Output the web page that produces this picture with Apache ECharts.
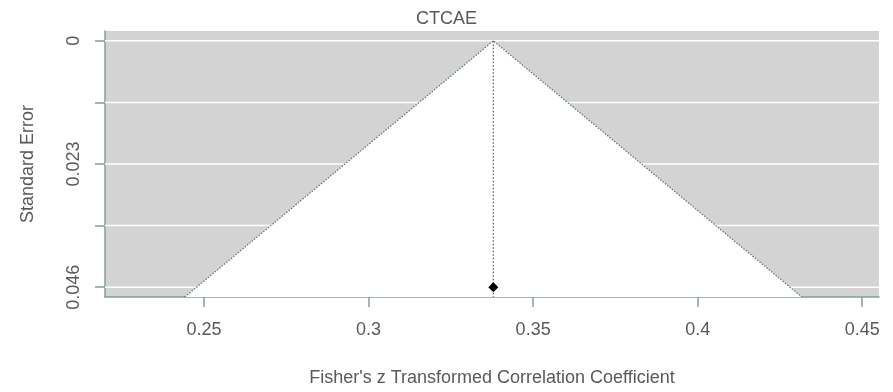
<!DOCTYPE html>
<html>
<head>
<meta charset="utf-8">
<script src="https://cdn.jsdelivr.net/npm/echarts@6/dist/echarts.min.js"></script>
<style>
  html, body { margin: 0; padding: 0; background: #fff; }
  #chart { width: 893px; height: 392px; }
</style>
</head>
<body>
<div id="chart"></div>
<script>
// Funnel plot of Fisher's z transformed correlations (CTCAE)
const plotTitle = 'CTCAE';
const pooledEstimate = 0.3379;
const studyZ = [0.3379];
const studySE = [0.046];
const xTicks = [0.25, 0.30, 0.35, 0.40, 0.45];
const yTicks = [0, 0.0115, 0.023, 0.0345, 0.046];
const yLabelTicks = [0, 0.023, 0.046];
const xRange = [0.2199, 0.4551];
const yRange = [-0.00184, 0.04784];
const zCrit = 1.96;

const textColor = '#595959';
const axisColor = '#7fa09b';
const funnelEdge = '#5e7d78';
const font = 'Liberation Sans, Arial, sans-serif';

const chart = echarts.init(document.getElementById('chart'), null, { renderer: 'canvas' });

const fmt = (v) => String(+Number(v).toFixed(4));

chart.setOption({
  animation: false,
  backgroundColor: '#ffffff',
  textStyle: { fontFamily: font },
  title: {
    text: plotTitle,
    left: 'center',
    top: 5,
    textStyle: { color: textColor, fontSize: 18, fontWeight: 'normal', fontFamily: font }
  },
  grid: {
    left: 105, right: 14, top: 31, bottom: 95,
    show: true, backgroundColor: '#d3d3d3', borderWidth: 0
  },
  xAxis: {
    type: 'value',
    min: xRange[0], max: xRange[1],
    name: "Fisher's z Transformed Correlation Coefficient",
    nameLocation: 'middle',
    nameGap: 72,
    nameTextStyle: { color: textColor, fontSize: 18, fontFamily: font, verticalAlign: 'top' },
    axisLine: { show: true, onZero: false, lineStyle: { color: axisColor, width: 1.5 } },
    axisTick: { show: true, length: 10, customValues: xTicks, lineStyle: { color: axisColor, width: 1.5 } },
    axisLabel: { customValues: xTicks, formatter: fmt, color: textColor, fontSize: 18, fontFamily: font, margin: 24 },
    splitLine: { show: false }
  },
  yAxis: {
    type: 'value',
    inverse: true,
    min: yRange[0], max: yRange[1],
    name: 'Standard Error',
    nameLocation: 'middle',
    nameGap: 68,
    nameRotate: 90,
    nameTextStyle: { color: textColor, fontSize: 18, fontFamily: font },
    axisLine: { show: true, onZero: false, lineStyle: { color: axisColor, width: 1.5 } },
    axisTick: { show: true, length: 10, customValues: yTicks, lineStyle: { color: axisColor, width: 1.5 } },
    axisLabel: { customValues: yLabelTicks, formatter: fmt, rotate: 90, color: textColor, fontSize: 18, fontFamily: font, margin: 22 },
    splitLine: { show: false }
  },
  series: [
    {
      // white confidence region (pseudo 95% CI funnel)
      type: 'custom',
      z: 1,
      clip: true,
      silent: true,
      data: [[pooledEstimate, 0]],
      renderItem: function (params, api) {
        const seMax = yRange[1];
        const top = api.coord([pooledEstimate, 0]);
        const bl = api.coord([pooledEstimate - zCrit * seMax, seMax]);
        const br = api.coord([pooledEstimate + zCrit * seMax, seMax]);
        return {
          type: 'polygon',
          shape: { points: [top, bl, br] },
          style: { fill: '#ffffff', stroke: null }
        };
      }
    },
    {
      // horizontal reference lines at each standard error tick
      type: 'custom',
      z: 2,
      clip: true,
      silent: true,
      data: yTicks.map(v => [v]),
      renderItem: function (params, api) {
        const v = api.value(0);
        const a = api.coord([xRange[0], v]);
        const b = api.coord([xRange[1], v]);
        return {
          type: 'line',
          shape: { x1: a[0], y1: a[1], x2: b[0], y2: b[1] },
          style: { stroke: '#ffffff', lineWidth: 1.5 }
        };
      }
    },
    {
      // funnel edges and pooled estimate line
      type: 'custom',
      z: 3,
      clip: true,
      silent: true,
      data: [[pooledEstimate, 0]],
      renderItem: function (params, api) {
        const seMax = yRange[1];
        const top = api.coord([pooledEstimate, 0]);
        const bl = api.coord([pooledEstimate - zCrit * seMax, seMax]);
        const br = api.coord([pooledEstimate + zCrit * seMax, seMax]);
        const bc = api.coord([pooledEstimate, seMax]);
        return {
          type: 'group',
          children: [
            { type: 'polyline', shape: { points: [bl, top, br] },
              style: { stroke: funnelEdge, lineWidth: 1.3, lineDash: [1.5, 1.5], fill: null } },
            { type: 'line', shape: { x1: top[0], y1: top[1], x2: bc[0], y2: bc[1] },
              style: { stroke: '#555555', lineWidth: 1.2, lineDash: [1.5, 2] } }
          ]
        };
      }
    },
    {
      type: 'scatter',
      z: 4,
      symbol: 'diamond',
      symbolSize: 10,
      itemStyle: { color: '#000000', opacity: 1 },
      data: studyZ.map((z, i) => [z, studySE[i]])
    }
  ]
});
</script>
</body>
</html>
